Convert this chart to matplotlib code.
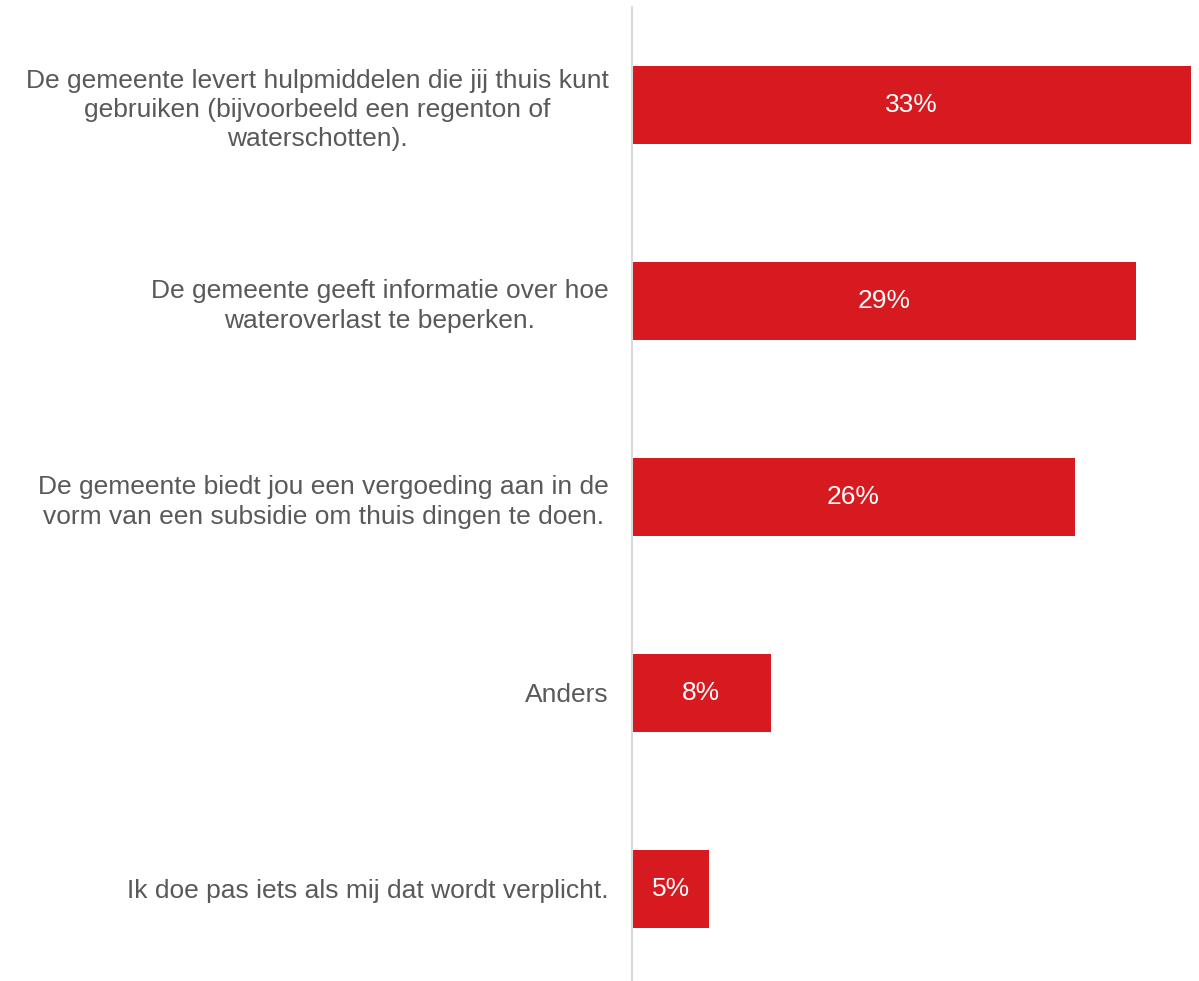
import matplotlib
matplotlib.use('Agg')
import matplotlib.pyplot as plt

# ======================
# DATA
# ======================
categories = [
    'De gemeente levert hulpmiddelen die jij thuis kunt\ngebruiken (bijvoorbeeld een regenton of\nwaterschotten).',
    'De gemeente geeft informatie over hoe\nwateroverlast te beperken.',
    'De gemeente biedt jou een vergoeding aan in de\nvorm van een subsidie om thuis dingen te doen.',
    'Anders',
    'Ik doe pas iets als mij dat wordt verplicht.',
]
values = [32.7, 29.5, 25.9, 8.1, 4.5]
value_labels = ['33%', '29%', '26%', '8%', '5%']

# ======================
# PLOT
# ======================
plt.rcParams['font.family'] = ['Liberation Sans', 'DejaVu Sans']

fig = plt.figure(figsize=(11.99, 9.81), dpi=100)
ax = fig.add_axes([0.5272, 0.0, 0.9933 - 0.5272, 0.9929])

bar_color = '#D71920'
text_color = '#595959'

y = list(range(len(categories)))
ax.barh(y, values, height=0.4, color=bar_color)

for yi, v, lab in zip(y, values, value_labels):
    ax.text(v / 2, yi, lab, ha='center', va='center', color='white', fontsize=19)

ax.set_xlim(0, max(values))
ax.set_ylim(4.47, -0.5)
ax.set_yticks(y)
ax.set_yticklabels(categories, fontsize=19, color=text_color, linespacing=1.27,
                   ha='right', multialignment='center')
ax.tick_params(axis='y', length=0, pad=17)
ax.set_xticks([])

for side in ['top', 'right', 'bottom']:
    ax.spines[side].set_visible(False)
ax.spines['left'].set_color('#D9D9D9')
ax.spines['left'].set_linewidth(1.5)

fig.savefig('out.png', dpi=100)
